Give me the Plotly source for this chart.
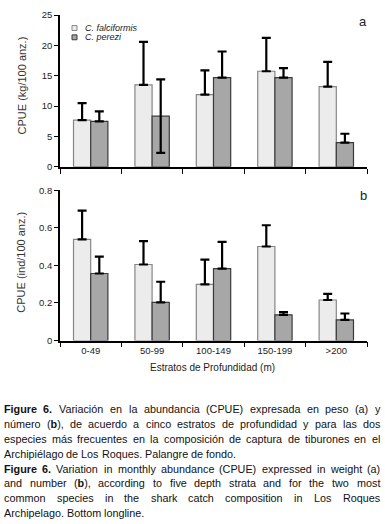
import re
import plotly.graph_objects as go

# ---------------- data ----------------
strata = ["0-49", "50-99", "100-149", "150-199", ">200"]
species = ["C. falciformis", "C. perezi"]

# (a) CPUE in weight (kg/100 anz.)
kg_falciformis = [7.7, 13.5, 11.9, 15.75, 13.2]
kg_falciformis_err = [2.8, 7.1, 4.0, 5.5, 4.1]
kg_falciformis_err_minus = [0, 0, 0, 0, 0]
kg_perezi = [7.5, 8.35, 14.7, 14.7, 4.0]
kg_perezi_err = [1.65, 6.05, 4.3, 1.55, 1.45]
kg_perezi_err_minus = [0, 6.05, 0, 0, 0]

# (b) CPUE in number (ind/100 anz.)
ind_falciformis = [0.539, 0.405, 0.299, 0.501, 0.216]
ind_falciformis_err = [0.153, 0.125, 0.132, 0.113, 0.033]
ind_perezi = [0.357, 0.203, 0.383, 0.137, 0.110]
ind_perezi_err = [0.090, 0.110, 0.142, 0.014, 0.034]

kg_ticks = [0, 5, 10, 15, 20, 25]
ind_ticks = [0, 0.2, 0.4, 0.6, 0.8]

caption_lines = [
    "<b>Figure 6.</b> Variación en la abundancia (CPUE) expresada en peso (a) y",
    "número (<b>b</b>), de acuerdo a cinco estratos de profundidad y para las dos",
    "especies más frecuentes en la composición de captura de tiburones en el",
    "Archipiélago de Los Roques. Palangre de fondo.",
    "<b>Figure 6.</b> Variation in monthly abundance (CPUE) expressed in weight (a)",
    "and number (<b>b</b>), according to five depth strata and for the two most",
    "common species in the shark catch composition in Los Roques",
    "Archipelago. Bottom longline.",
]
paragraph_last_lines = [3, 7]

# ---------------- style ----------------
W, H = 385, 524
REG = "Liberation Sans, Arial, sans-serif"
LIGHT_FILL, LIGHT_LINE = "#ececec", "#858585"
DARK_FILL, DARK_LINE = "#a7a7a7", "#3a3a3a"
CAP_SIZE = 10.8
CAP_X0, CAP_X1 = 4.0, 380.0


def px(x):
    return x / W


def py(y):
    return 1 - y / H


# Arial / Liberation Sans advance widths (per 1000 em)
_REG_W = {" ": 278, "(": 333, ")": 333, ",": 278, "-": 333, ".": 278, "/": 278,
          "A": 667, "B": 667, "C": 722, "D": 722, "E": 667, "F": 611, "G": 778, "H": 722,
          "I": 278, "L": 556, "M": 833, "N": 722, "O": 778, "P": 667, "R": 722, "S": 667,
          "T": 611, "U": 722, "V": 667, "a": 556, "b": 556, "c": 500, "d": 556, "e": 556,
          "f": 278, "g": 556, "h": 556, "i": 222, "j": 222, "k": 500, "l": 222, "m": 833,
          "n": 556, "o": 556, "p": 556, "q": 556, "r": 333, "s": 500, "t": 278, "u": 556,
          "v": 500, "w": 722, "x": 500, "y": 500, "z": 500, "á": 556, "é": 556, "í": 278,
          "ó": 556, "ú": 556}
_BOLD_W = {" ": 278, ".": 278, "F": 611, "i": 278, "g": 611, "u": 611, "r": 389,
           "e": 556, "b": 611, "a": 556}
for _d in "0123456789":
    _REG_W[_d] = 556
    _BOLD_W[_d] = 556


def split_words(markup):
    """Split a line into words, keeping <b> tags balanced inside each word."""
    words, cur, bold, cur_start_bold = [], "", False, False
    for tok in re.split(r"(</?b>)", markup):
        if tok == "<b>":
            bold = True
            cur += "<b>"
        elif tok == "</b>":
            bold = False
            cur += "</b>"
        else:
            for ch in tok:
                if ch == " ":
                    words.append(("<b>" if cur_start_bold else "") + cur + ("</b>" if bold else ""))
                    cur, cur_start_bold = "", bold
                else:
                    cur += ch
    words.append(("<b>" if cur_start_bold else "") + cur + ("</b>" if bold else ""))
    return [w.replace("<b></b>", "") for w in words]


def text_width(markup, size):
    w = 0.0
    bold = False
    for tok in re.split(r"(</?b>)", markup):
        if tok == "<b>":
            bold = True
        elif tok == "</b>":
            bold = False
        else:
            for ch in tok:
                table = _BOLD_W if bold else _REG_W
                w += table.get(ch, _REG_W.get(ch, 556))
    return w * size / 1000.0


fig = go.Figure()


def err(plus, minus=None):
    return dict(type="data", array=plus, symmetric=False,
                arrayminus=minus if minus is not None else [0] * len(plus),
                color="black", thickness=2.2, width=4.5)


fig.add_trace(go.Bar(x=strata, y=kg_falciformis, name=species[0],
                     marker=dict(color=LIGHT_FILL, line=dict(color=LIGHT_LINE, width=1.2)),
                     error_y=err(kg_falciformis_err, kg_falciformis_err_minus),
                     xaxis="x", yaxis="y", showlegend=False))
fig.add_trace(go.Bar(x=strata, y=kg_perezi, name=species[1],
                     marker=dict(color=DARK_FILL, line=dict(color=DARK_LINE, width=1.2)),
                     error_y=err(kg_perezi_err, kg_perezi_err_minus),
                     xaxis="x", yaxis="y", showlegend=False))
fig.add_trace(go.Bar(x=strata, y=ind_falciformis, name=species[0],
                     marker=dict(color=LIGHT_FILL, line=dict(color=LIGHT_LINE, width=1.2)),
                     error_y=err(ind_falciformis_err),
                     xaxis="x2", yaxis="y2", showlegend=False))
fig.add_trace(go.Bar(x=strata, y=ind_perezi, name=species[1],
                     marker=dict(color=DARK_FILL, line=dict(color=DARK_LINE, width=1.2)),
                     error_y=err(ind_perezi_err),
                     xaxis="x2", yaxis="y2", showlegend=False))

xdom = [px(60), px(367)]
axis_common = dict(showline=True, linecolor="black", linewidth=1.6, ticks="outside",
                   tickcolor="black", tickwidth=1.4, showgrid=False, zeroline=False,
                   tickfont=dict(family=REG, size=9.5, color="#222"))

fig.update_layout(
    width=W, height=H,
    margin=dict(l=0, r=0, t=0, b=0),
    paper_bgcolor="white", plot_bgcolor="white",
    barmode="group", bargap=0.44, bargroupgap=0.0,
    showlegend=False,
    xaxis=dict(domain=xdom, anchor="y", type="category", range=[-0.5, 4.5],
               tickson="boundaries", ticklen=5, showticklabels=False, **axis_common),
    yaxis=dict(domain=[py(164.3), py(9.3)], anchor="x", range=[0, 25],
               tickvals=kg_ticks, ticklen=4, **axis_common),
    xaxis2=dict(domain=xdom, anchor="y2", type="category", range=[-0.5, 4.5],
                tickson="boundaries", ticklen=5, showticklabels=True, **axis_common),
    yaxis2=dict(domain=[py(341.7), py(188.3)], anchor="x2", range=[0, 0.8],
                tickvals=ind_ticks, ticklen=4, **axis_common),
)

ann = []
# axis titles
ann.append(dict(text="CPUE (kg/100 anz.)", x=px(21.5), y=py(81.7), textangle=-90,
                font=dict(family=REG, size=11, color="#333")))
ann.append(dict(text="CPUE (ind/100 anz.)", x=px(21.5), y=py(261.7), textangle=-90,
                font=dict(family=REG, size=11, color="#333")))
ann.append(dict(text="Estratos de Profundidad (m)", x=px(213), y=py(369.5),
                font=dict(family=REG, size=10, color="#222")))
# panel letters
ann.append(dict(text="a", x=px(362.5), y=py(15.5), font=dict(family=REG, size=13, color="#222")))
ann.append(dict(text="b", x=px(363), y=py(194), font=dict(family=REG, size=13, color="#222")))
# legend texts
ann.append(dict(text="<i>" + species[0] + "</i>", x=px(82.5), y=py(22.5), xanchor="left",
                font=dict(family=REG, size=9, color="#222")))
ann.append(dict(text="<i>" + species[1] + "</i>", x=px(82.5), y=py(32), xanchor="left",
                font=dict(family=REG, size=9, color="#222")))

# caption: justified, word by word
space_w = text_width(" ", CAP_SIZE)
for i, line in enumerate(caption_lines):
    words = split_words(line)
    widths = [text_width(wd, CAP_SIZE) for wd in words]
    if i in paragraph_last_lines or len(words) < 2:
        gap = space_w
    else:
        gap = (CAP_X1 - CAP_X0 - sum(widths)) / (len(words) - 1)
    xpos = CAP_X0
    for wd, wdw in zip(words, widths):
        ann.append(dict(text=wd, x=px(xpos), y=py(411.7 + i * 15.2), xanchor="left",
                        borderpad=0, borderwidth=0,
                        font=dict(family=REG, size=CAP_SIZE, color="#111")))
        xpos += wdw + gap

for a in ann:
    a.setdefault("xref", "paper")
    a.setdefault("yref", "paper")
    a.setdefault("showarrow", False)
    a.setdefault("yanchor", "middle")
    a.setdefault("xanchor", "center")
fig.update_layout(annotations=ann)

# legend swatches
fig.update_layout(shapes=[
    dict(type="rect", xref="paper", yref="paper", x0=px(72), x1=px(77), y0=py(25), y1=py(20),
         fillcolor=LIGHT_FILL, line=dict(color=LIGHT_LINE, width=1)),
    dict(type="rect", xref="paper", yref="paper", x0=px(72), x1=px(77), y0=py(34.5), y1=py(29.5),
         fillcolor=DARK_FILL, line=dict(color=DARK_LINE, width=1)),
])

# remove the default 8px page margin so the figure sits at the window's top-left corner
fig.write_html("out.html", config={"displayModeBar": False},
               post_script="document.body.style.margin='0px';")
